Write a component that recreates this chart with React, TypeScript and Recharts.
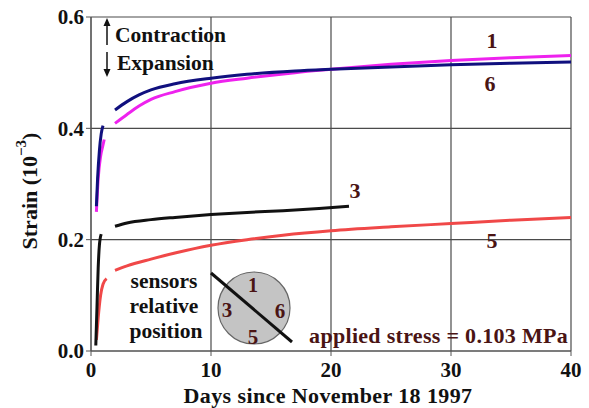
import React from 'react';
import { LineChart, Line, XAxis, YAxis, CartesianGrid, Label } from 'recharts';

// sensor readings, days since Nov 18 1997 (null = gap in the record)
const days1 = [0.45, 0.6, 0.8, 1.0, 1.1, 1.5, 2, 3, 4, 5, 7, 10, 13, 17, 20, 25, 30, 35, 40];
const strain1 = [0.25, 0.31, 0.35, 0.37, 0.38, null, 0.409, 0.425, 0.44, 0.452, 0.466, 0.481, 0.49, 0.5, 0.506, 0.515, 0.522, 0.527, 0.531];

const days6 = [0.45, 0.55, 0.7, 0.85, 1.0, 1.5, 2, 3, 4, 5, 7, 10, 13, 17, 20, 25, 30, 35, 40];
const strain6 = [0.26, 0.31, 0.36, 0.39, 0.405, null, 0.433, 0.448, 0.46, 0.469, 0.48, 0.49, 0.497, 0.503, 0.506, 0.51, 0.514, 0.517, 0.519];

const days3 = [0.4, 0.5, 0.6, 0.7, 0.85, 1.4, 2, 3, 5, 7, 10, 13, 16, 19, 21.5];
const strain3 = [0.01, 0.08, 0.15, 0.19, 0.21, null, 0.224, 0.23, 0.236, 0.24, 0.245, 0.249, 0.252, 0.256, 0.26];

const days5 = [0.45, 0.6, 0.8, 1.0, 1.3, 1.6, 2, 3, 5, 7, 10, 13, 16, 20, 25, 30, 35, 40];
const strain5 = [0.02, 0.06, 0.1, 0.12, 0.13, null, 0.145, 0.153, 0.165, 0.176, 0.19, 0.2, 0.208, 0.216, 0.223, 0.229, 0.235, 0.24];

const xTicks = [0, 10, 20, 30, 40];
const yTicks = [0, 0.2, 0.4, 0.6];

const toPoints = (d: number[], s: (number | null)[]) => d.map((x, i) => ({ x, y: s[i] }));

const FONT = '"Liberation Serif", "DejaVu Serif", serif';
const MAROON = '#4a1414';

const YLabel = () => (
    <text
        x={29}
        y={191}
        transform="rotate(-90 29 191)"
        textAnchor="middle"
        dominantBaseline="central"
        fontFamily={FONT}
        fontWeight="bold"
        fontSize={22}
        fill="#111"
    >
        Strain (10<tspan dy={-8} fontSize={15}>−3</tspan><tspan dy={8}>)</tspan>
    </text>
);

const App: React.FC = () => {
    const tickStyle = { fontFamily: FONT, fontWeight: 'bold', fontSize: 21, fill: '#111' };
    return (
        <div style={{ position: 'absolute', left: 0, top: 0, width: 589, height: 408, background: '#fff' }}>
            <LineChart width={589} height={408} margin={{ top: 17, right: 18, bottom: 0, left: 0 }}>
                <CartesianGrid stroke="#4a4a4a" strokeWidth={1.2} />
                <XAxis
                    type="number"
                    dataKey="x"
                    domain={[0, 40]}
                    ticks={xTicks}
                    height={57}
                    tickSize={5}
                    tickMargin={6}
                    stroke="#555"
                    tick={tickStyle}
                    allowDuplicatedCategory={false}
                >
                    <Label
                        value="Days since November 18 1997"
                        position="insideBottom"
                        offset={5}
                        dx={-3}
                        style={{ fontFamily: FONT, fontWeight: 'bold', fontSize: 22, fill: '#111', letterSpacing: 0.4 }}
                    />
                </XAxis>
                <YAxis
                    type="number"
                    domain={[0, 0.6]}
                    ticks={yTicks}
                    width={91}
                    tickSize={5}
                    tickMargin={2}
                    stroke="#555"
                    tick={tickStyle}
                    tickFormatter={(v: number) => v.toFixed(1)}
                >
                    <Label content={<YLabel />} />
                </YAxis>
                <Line data={toPoints(days5, strain5)} dataKey="y" stroke="#f04848" strokeWidth={3} dot={false} isAnimationActive={false} type="monotone" />
                <Line data={toPoints(days3, strain3)} dataKey="y" stroke="#111" strokeWidth={3} dot={false} isAnimationActive={false} type="monotone" />
                <Line data={toPoints(days1, strain1)} dataKey="y" stroke="#ee22ee" strokeWidth={3} dot={false} isAnimationActive={false} type="monotone" />
                <Line data={toPoints(days6, strain6)} dataKey="y" stroke="#10107e" strokeWidth={3} dot={false} isAnimationActive={false} type="monotone" />
            </LineChart>

            {/* annotations */}
            <svg width={589} height={408} style={{ position: 'absolute', left: 0, top: 0, pointerEvents: 'none' }}>
                <g fontFamily={FONT} fontWeight="bold">
                    <line x1={107} y1={45} x2={107} y2={22} stroke="#111" strokeWidth={1.5} />
                    <path d="M103.5,26 L107,18 L110.5,26 Z" fill="#111" />
                    <line x1={107} y1={52} x2={107} y2={73} stroke="#111" strokeWidth={1.5} />
                    <path d="M103.5,69 L107,77 L110.5,69 Z" fill="#111" />
                    <text x={115} y={42} fontSize={21.5} fill="#111">Contraction</text>
                    <text x={117} y={70} fontSize={21.5} fill="#111">Expansion</text>

                    <text x={492} y={48} fontSize={22} fill={MAROON} textAnchor="middle">1</text>
                    <text x={490} y={91} fontSize={22} fill={MAROON} textAnchor="middle">6</text>
                    <text x={355} y={198} fontSize={22} fill={MAROON} textAnchor="middle">3</text>
                    <text x={492} y={248} fontSize={22} fill={MAROON} textAnchor="middle">5</text>

                    <text x={164} y={288} fontSize={21.5} fill="#111" textAnchor="middle">sensors</text>
                    <text x={164} y={313} fontSize={21.5} fill="#111" textAnchor="middle">relative</text>
                    <text x={166} y={338} fontSize={21.5} fill="#111" textAnchor="middle">position</text>

                    <circle cx={254} cy={308} r={36} fill="#c4c4c4" stroke="#666" strokeWidth={1.2} />
                    <text x={253} y={292} fontSize={20} fill={MAROON} textAnchor="middle">1</text>
                    <text x={227} y={317} fontSize={21} fill={MAROON} textAnchor="middle">3</text>
                    <text x={280} y={318} fontSize={21} fill={MAROON} textAnchor="middle">6</text>
                    <text x={253} y={344} fontSize={21} fill={MAROON} textAnchor="middle">5</text>
                    <line x1={211} y1={273} x2={292} y2={342} stroke="#111" strokeWidth={3} />

                    <text x={568} y={343} fontSize={22} fill={MAROON} textAnchor="end" letterSpacing={0.3}>applied stress = 0.103 MPa</text>
                </g>
            </svg>
        </div>
    );
};

export default App;
